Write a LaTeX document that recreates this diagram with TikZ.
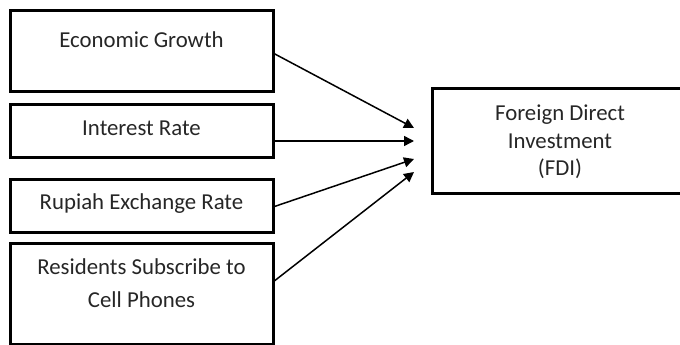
\documentclass[tikz,border=0pt]{standalone}
\usepackage{fontspec}
\setmainfont{Carlito}
\usetikzlibrary{arrows.meta}
\begin{document}
\begin{tikzpicture}[x=1pt,y=-1pt,
  box/.style={draw=black, line width=3pt, inner sep=0pt, outer sep=0pt},
  lbl/.style={anchor=base, inner sep=0pt, text=black!85, font=\fontsize{22.8}{27}\selectfont},
  conn/.style={line width=1.5pt, -{Triangle[length=10pt,width=10pt]}}]
\useasboundingbox (0,0) rectangle (680,345);
\clip (0,0) rectangle (680,345);
% boxes
\node[box, minimum width=263pt, minimum height=80pt] (eg) at (141.5,51) {};
\node[box, minimum width=263pt, minimum height=53pt] (ir) at (141.5,130.5) {};
\node[box, minimum width=263pt, minimum height=53pt] (rx) at (141.5,205.5) {};
\node[box, minimum width=263pt, minimum height=101pt] (rs) at (141.5,293.5) {};
\node[box, minimum width=256pt, minimum height=105pt] (fdi) at (560,140.5) {};
% labels
\node[lbl] (egt) at (141.5,48) {Economic Growth};
\node[lbl] (irt) at (141.5,135) {Interest Rate};
\node[lbl] (rxt) at (141.5,209) {Rupiah Exchange Rate};
\node[lbl] (rst1) at (141.5,274) {Residents Subscribe to};
\node[lbl] (rst2) at (141.5,307) {Cell Phones};
\node[lbl] (ft1) at (560,121) {Foreign Direct};
\node[lbl] (ft2) at (560,148) {Investment};
\node[lbl] (ft3) at (560,175) {(FDI)};
% arrow targets
\coordinate (t1) at (414,128);
\coordinate (t2) at (414,141);
\coordinate (t3) at (414,159);
\coordinate (t4) at (414,172);
\draw[conn] (eg.east |- 0,53) -- (t1);
\draw[conn] (ir.east |- 0,141) -- (t2);
\draw[conn] (rx.east |- 0,207) -- (t3);
\draw[conn] (rs.east |- 0,282) -- (t4);
\end{tikzpicture}
\end{document}
